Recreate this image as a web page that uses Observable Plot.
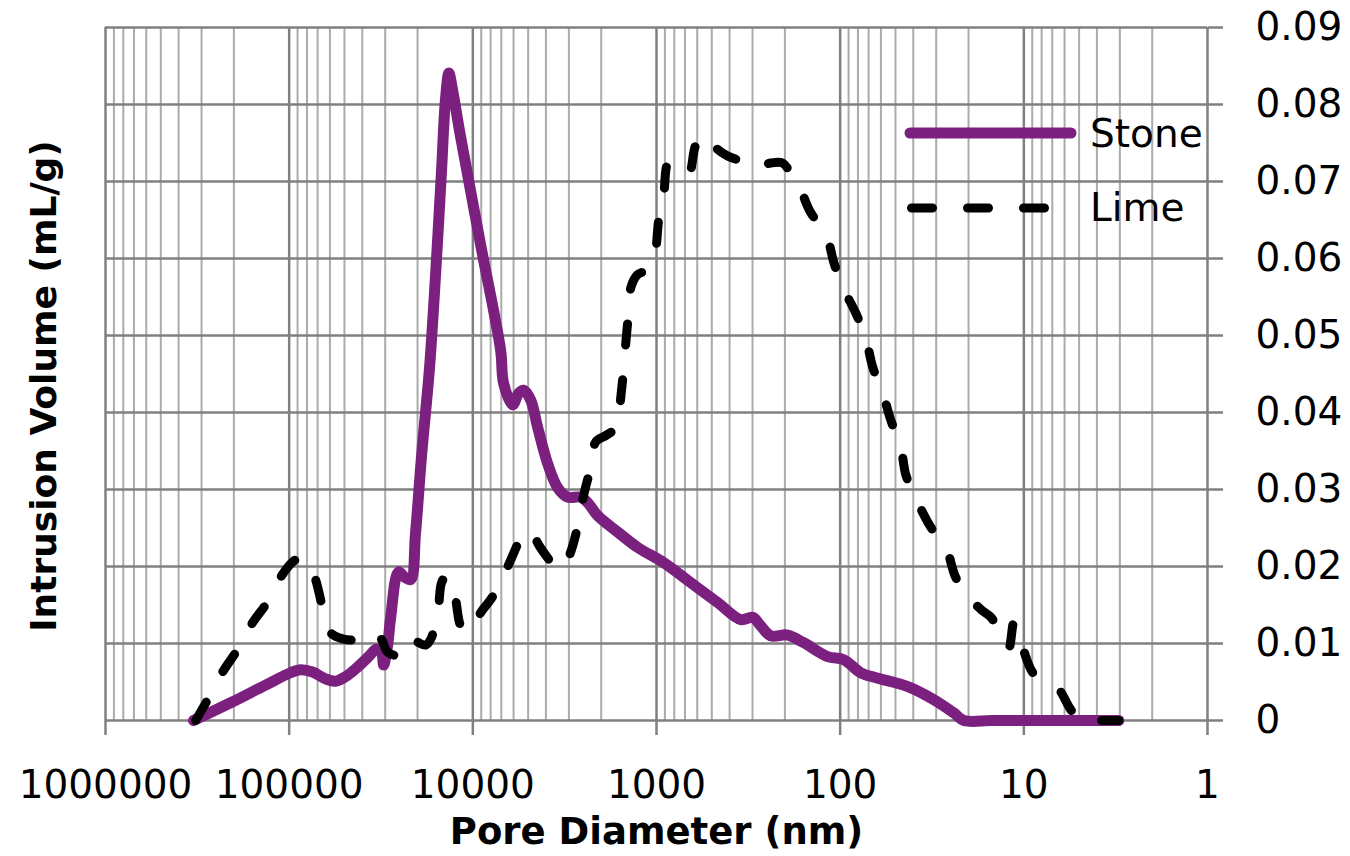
<!DOCTYPE html>
<html><head><meta charset="utf-8">
<script src="https://cdn.jsdelivr.net/npm/d3@7"></script>
<script src="https://cdn.jsdelivr.net/npm/@observablehq/plot@0.6"></script>
<style>body{margin:0;background:#fff}</style>
</head><body><div id="chart"></div>
<script>
// Pore diameter (nm) and intrusion volume (mL/g)
const stoneDiameter = [332000, 208500, 134400, 98300, 86700, 74600, 63300, 55900, 49300, 43500,
  36900, 33400, 31400, 30600, 29100, 28000, 25400, 23500, 21800, 20500,
  19000, 17200, 15900, 14800, 14100, 13500, 12900, 11700, 9070, 7060,
  6800, 6070, 5630, 5290, 4840, 4440, 3920, 3450, 3050, 2590,
  2370, 2090, 1630, 1270, 914, 651, 464, 348, 299, 271,
  239, 193, 158, 117, 95.6, 77.2, 62.4, 42.8, 30.9, 24.1, 21.2, 15, 10, 5, 3.04];
const stoneVolume = [0, 0.0023, 0.0046, 0.0062, 0.0066, 0.0063, 0.0054, 0.0051, 0.0057, 0.0067,
  0.0083, 0.0093, 0.0088, 0.0072, 0.0098, 0.0134, 0.0193, 0.0186, 0.0183, 0.0244,
  0.0345, 0.0459, 0.0585, 0.0715, 0.0806, 0.0841, 0.0819, 0.0760, 0.0618, 0.0481,
  0.0438, 0.0410, 0.0425, 0.0429, 0.0416, 0.0381, 0.0334, 0.0302, 0.0290, 0.0290,
  0.0283, 0.0266, 0.0245, 0.0225, 0.0205, 0.0179, 0.0153, 0.0131, 0.0134, 0.0123,
  0.0110, 0.0111, 0.0101, 0.0083, 0.0079, 0.0062, 0.0055, 0.0044, 0.0027, 0.0010, 0, 0, 0, 0, 0];

const limeDiameter = [323000, 275000, 230500, 191000, 158200, 131100, 111400, 95800, 86700, 78400,
  71800, 65800, 59500, 51200, 43500, 36000, 31800, 29100, 25700, 21800,
  19700, 18100, 17000, 15500, 14800, 13900, 13000, 12400, 11700, 10950,
  10000, 9070, 8000, 7060, 6230, 5360, 5030, 4670, 4380, 3770,
  3540, 3200, 2930, 2650, 2490, 2280, 2140, 1890, 1710, 1610,
  1570, 1510, 1470, 1420, 1380, 1270, 1120, 1050, 1010, 973,
  914, 858, 757, 668, 612, 553, 507, 476, 410, 361,
  307, 271, 239, 206, 186, 170, 145, 120, 108, 96.8,
  82.2, 72.6, 66.5, 58.6, 53.0, 46.8, 43.9, 38.8, 32.1, 26.6,
  23.5, 19.9, 17.1, 15.1, 12.85, 12.07, 11.34, 10.65, 10.13, 8.93,
  7.59, 6.53, 5.55, 4.89, 4.0, 3.04];
const limeVolume = [0, 0.0029, 0.0063, 0.0092, 0.0127, 0.0154, 0.0186, 0.0206, 0.0211, 0.0205,
  0.0183, 0.0147, 0.0114, 0.0106, 0.0105, 0.0115, 0.0107, 0.0089, 0.0085, 0.0108,
  0.0101, 0.0098, 0.0105, 0.0140, 0.0179, 0.0188, 0.0176, 0.0157, 0.0124, 0.0115,
  0.0121, 0.0140, 0.0157, 0.0179, 0.0208, 0.0241, 0.0247, 0.0241, 0.0228, 0.0206,
  0.0198, 0.0199, 0.0219, 0.0258, 0.0293, 0.0329, 0.0362, 0.0370, 0.0377, 0.0384,
  0.0416, 0.0455, 0.0490, 0.0529, 0.0562, 0.0579, 0.0585, 0.0596, 0.0611, 0.0650,
  0.0683, 0.0725, 0.0719, 0.0711, 0.0747, 0.0760, 0.0754, 0.0744, 0.0733, 0.0728,
  0.0719, 0.0720, 0.0724, 0.0724, 0.0711, 0.0698, 0.0660, 0.0633, 0.0594, 0.0563,
  0.0529, 0.0497, 0.0459, 0.0425, 0.0390, 0.0355, 0.0319, 0.0289, 0.0251, 0.0225,
  0.0186, 0.0160, 0.0144, 0.0134, 0.0105, 0.0094, 0.0127, 0.0107, 0.0094, 0.0062,
  0.0050, 0.0042, 0.0014, 0, 0, 0];

const seriesNames = ["Stone", "Lime"];
const xTickValues = [1000000, 100000, 10000, 1000, 100, 10, 1];
const xTickLabels = ["1000000", "100000", "10000", "1000", "100", "10", "1"];
const yTickValues = [0, 0.01, 0.02, 0.03, 0.04, 0.05, 0.06, 0.07, 0.08, 0.09];
const yTickLabels = ["0", "0.01", "0.02", "0.03", "0.04", "0.05", "0.06", "0.07", "0.08", "0.09"];
const xTitle = "Pore Diameter (nm)";
const yTitle = "Intrusion Volume (mL/g)";

const stone = stoneDiameter.map((d, i) => ({d, v: stoneVolume[i]}));
const lime = limeDiameter.map((d, i) => ({d, v: limeVolume[i]}));

// minor log gridlines (2..9 within each decade)
const minorX = [];
for (let k = 0; k < 6; k++) for (let m = 2; m <= 9; m++) minorX.push(m * Math.pow(10, k));

const stoneColor = "#7b207f";
const gridMajor = "#808080";
const gridMinor = "#ababab";

const chart = Plot.plot({
  width: 1350, height: 856,
  marginLeft: 105, marginRight: 143, marginTop: 27, marginBottom: 136,
  style: {fontFamily: "DejaVu Sans", fontSize: "39px", color: "#000", background: "#fff", overflow: "visible"},
  x: {type: "log", domain: [1, 1000000], reverse: true},
  y: {domain: [0, 0.09]},
  marks: [
    Plot.ruleX(minorX, {stroke: gridMinor, strokeWidth: 2}),
    Plot.ruleX(xTickValues, {stroke: gridMajor, strokeWidth: 2.5}),
    Plot.ruleY(yTickValues, {stroke: gridMajor, strokeWidth: 2.5}),
    Plot.axisX(xTickValues, {tickSize: 15, tickPadding: 35, stroke: gridMajor, strokeWidth: 2.5, fill: "#000",
      tickFormat: d => xTickLabels[xTickValues.indexOf(d)], label: null}),
    Plot.axisY(yTickValues, {anchor: "right", tickSize: 15, tickPadding: 33, stroke: gridMajor, strokeWidth: 2.5, fill: "#000",
      tickFormat: d => yTickLabels[yTickValues.indexOf(d)], label: null}),
    Plot.line(stone, {x: "d", y: "v", stroke: stoneColor, strokeWidth: 11, curve: "catmull-rom",
      strokeLinecap: "round", strokeLinejoin: "round"}),
    Plot.line(lime, {x: "d", y: "v", stroke: "#000", strokeWidth: 9, curve: "catmull-rom",
      strokeDasharray: "21,35", strokeLinecap: "round", strokeLinejoin: "round"}),
    Plot.text([xTitle], {frameAnchor: "bottom", dy: 112, textAnchor: "middle", lineAnchor: "middle",
      fontWeight: "bold", fontSize: 37, fill: "#000"}),
    Plot.text([yTitle], {frameAnchor: "left", dx: -61, dy: 12, rotate: -90, textAnchor: "middle", lineAnchor: "middle",
      fontWeight: "bold", fontSize: 36, fill: "#000"})
  ]
});
document.getElementById("chart").append(chart);

// legend (upper right, inside the plot)
const svg = d3.select(chart);
const lg = svg.append("g").attr("text-anchor", "start");
lg.append("line").attr("x1", 910).attr("x2", 1071).attr("y1", 133).attr("y2", 133)
  .attr("stroke", stoneColor).attr("stroke-width", 11).attr("stroke-linecap", "round");
lg.append("text").attr("x", 1090).attr("y", 147).attr("font-size", 39).attr("fill", "#000")
  .attr("text-anchor", "start").text(seriesNames[0]);
lg.append("line").attr("x1", 911.5).attr("x2", 1045).attr("y1", 208).attr("y2", 208)
  .attr("stroke", "#000").attr("stroke-width", 9).attr("stroke-dasharray", "21,35").attr("stroke-linecap", "round");
lg.append("text").attr("x", 1090).attr("y", 221).attr("font-size", 39).attr("fill", "#000")
  .attr("text-anchor", "start").text(seriesNames[1]);
</script>
</body></html>
